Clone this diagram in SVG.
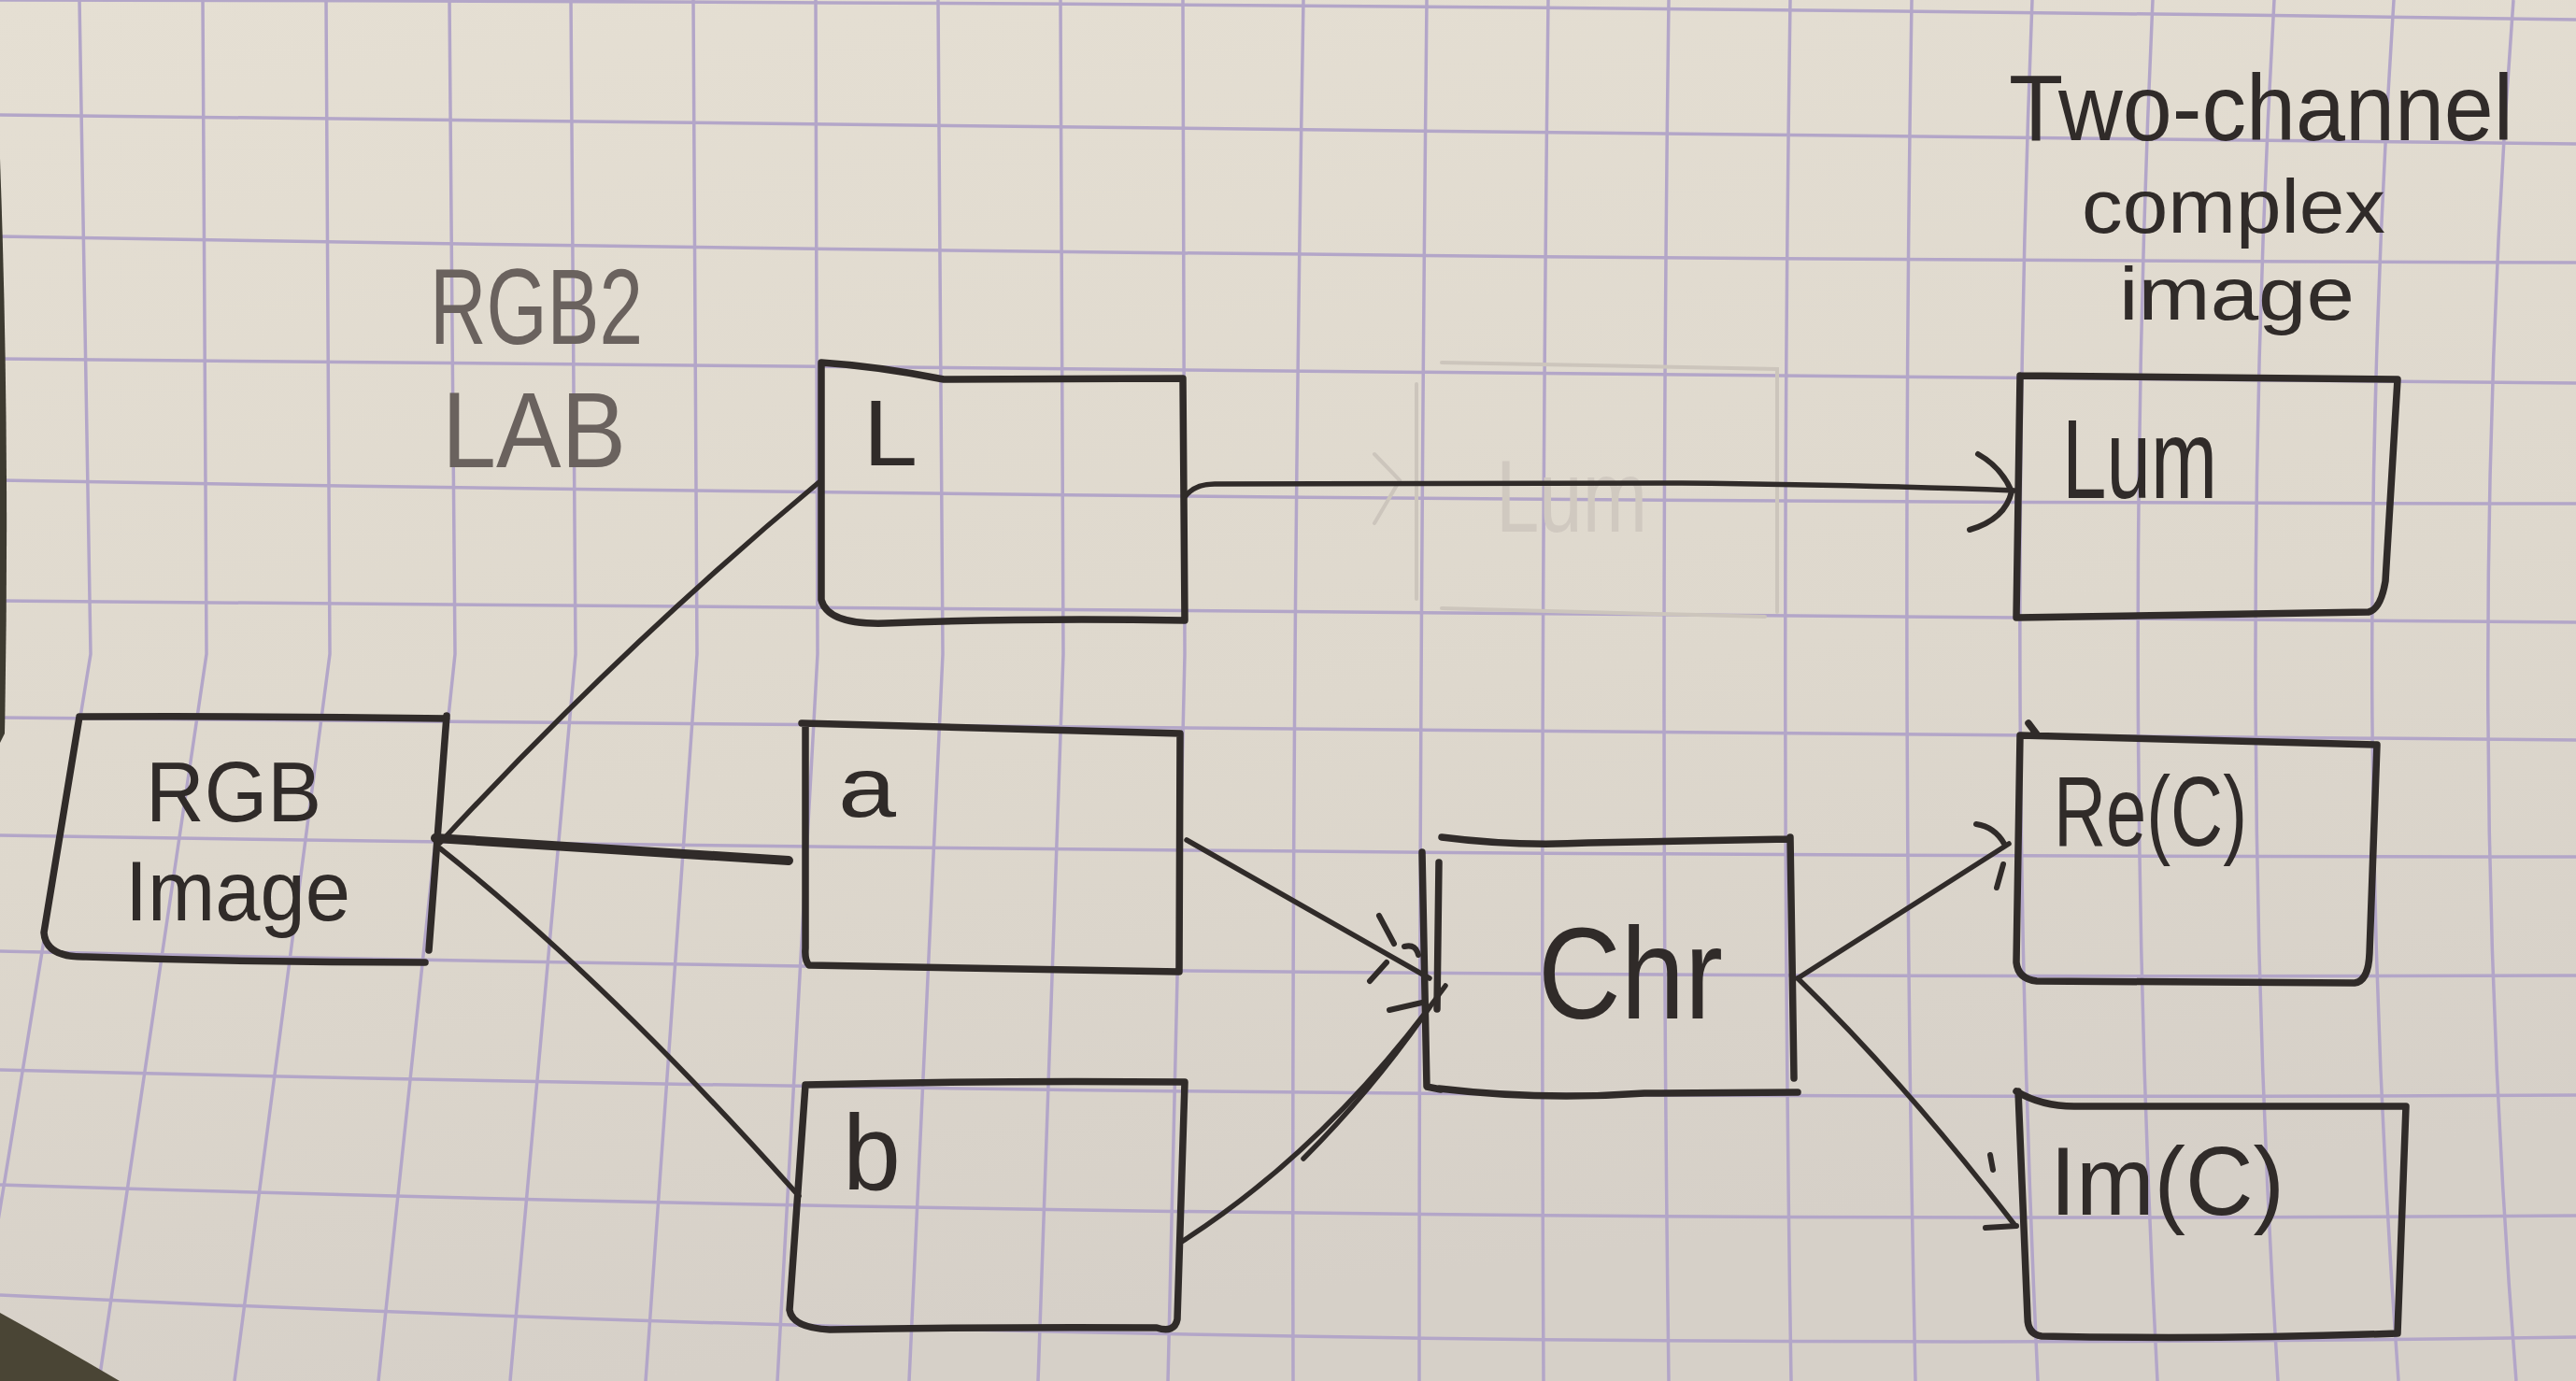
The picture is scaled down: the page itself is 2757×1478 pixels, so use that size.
<svg xmlns="http://www.w3.org/2000/svg" width="2757" height="1478" viewBox="0 0 2757 1478">
<defs>
<linearGradient id="paper" x1="0" y1="0" x2="0.25" y2="1">
<stop offset="0" stop-color="#e5dfd3"/>
<stop offset="0.6" stop-color="#ded8cd"/>
<stop offset="1" stop-color="#d6d0c8"/>
</linearGradient>
<style>
.grid{fill:none;stroke:#b3a6c8;stroke-width:3.5;stroke-linejoin:round}
.box{fill:none;stroke:#302b29;stroke-width:7.5;stroke-linecap:round;stroke-linejoin:round}
.edge{fill:none;stroke:#302b29;stroke-width:5.5;stroke-linecap:round;stroke-linejoin:round}
.thick{stroke-width:10}
.head{fill:none;stroke:#302b29;stroke-width:6;stroke-linecap:round;stroke-linejoin:round}
.faint{fill:none;stroke:#ccc5bc;stroke-width:4;stroke-linecap:round}
.lbl{font-family:"Liberation Sans",Arial,sans-serif;fill:#302b29}
.pencil{fill:#6a625e}
.ghost{fill:#d0c9c0}
</style>
</defs>
<rect width="2757" height="1478" fill="url(#paper)"/>
<g id="grid" class="grid">
<path d="M85,0 L97,700 L-30,1478"/>
<path d="M217,0 L221,700 L106,1478"/>
<path d="M349,0 L353,700 L251,1478"/>
<path d="M481,0 L487,700 L405,1478"/>
<path d="M611,0 L616,700 L546,1478"/>
<path d="M742,0 L746,700 L691,1478"/>
<path d="M873,0 L875,700 L832,1478"/>
<path d="M1004,0 L1009,700 L973,1478"/>
<path d="M1135,0 L1138,700 L1111,1478"/>
<path d="M1266,0 L1268,700 L1250,1478"/>
<path d="M1395,0 Q1382,739 1384,1478"/>
<path d="M1527,0 Q1519,739 1519,1478"/>
<path d="M1657,0 Q1648,739 1652,1478"/>
<path d="M1786,0 Q1776,739 1786,1478"/>
<path d="M1916,0 Q1905,739 1917,1478"/>
<path d="M2046,0 Q2034,739 2050,1478"/>
<path d="M2175,0 Q2146,739 2181,1478"/>
<path d="M2304,0 Q2270,739 2309,1478"/>
<path d="M2434,0 Q2392,739 2438,1478"/>
<path d="M2562,0 Q2513,739 2567,1478"/>
<path d="M2690,0 Q2634,739 2693,1478"/>
<path d="M0,0 Q1380,1.5 2757,21"/>
<path d="M0,123 Q1380,141.5 2757,154"/>
<path d="M0,253 Q1380,277 2757,281"/>
<path d="M0,384 Q1380,403 2757,410"/>
<path d="M0,514 Q1380,537.5 2757,539"/>
<path d="M0,643 Q1380,659.5 2757,666"/>
<path d="M0,768 Q1380,784 2757,792"/>
<path d="M0,894 Q1380,916.5 2757,917"/>
<path d="M0,1018 Q1380,1049 2757,1044"/>
<path d="M0,1145 Q1380,1179.5 2757,1172"/>
<path d="M0,1268 Q1380,1311.5 2757,1301"/>
<path d="M0,1386 Q1380,1451.5 2757,1431"/>
</g>
<g id="page-edge">
<path d="M0,170 Q11,470 5,785 L0,795 Z" fill="#3d3a30"/>
<path d="M0,1405 Q60,1438 128,1478 L0,1478 Z" fill="#4a4535"/>
</g>
<g id="erased">
<path class="faint" d="M1543,388 L1902,395 L1902,655 M1889,660 L1543,651 M1516,411 L1516,641"/>
<path class="faint" d="M1471,486 L1498,514 L1471,560"/>
<text class="lbl ghost" x="1601" y="569" font-size="110" textLength="162" lengthAdjust="spacingAndGlyphs">Lum</text>
</g>
<g id="connectors">
<path class="edge" d="M879,514 Q665,692 471,902"/>
<path class="edge thick" d="M466,897 L844,921"/>
<path class="edge" d="M471,908 Q650,1050 855,1280"/>
<path class="edge" d="M1268,532 Q1278,518 1300,518 L1800,517 Q2000,519 2156,525"/>
<path class="head" d="M2117,486 Q2142,500 2153,526 Q2146,556 2108,567"/>
<path class="edge" d="M1270,899 L1530,1047"/>
<path class="head" d="M1476,980 L1492,1010 M1466,1050 L1484,1030 M1503,1013 Q1515,1010 1518,1022"/>
<path class="edge" d="M1263,1330 Q1420,1230 1547,1055"/>
<path class="edge" d="M1395,1240 Q1470,1165 1530,1078"/>
<path class="head" d="M1487,1081 L1522,1073"/>
<path class="edge" d="M1924,1047 L2150,903"/>
<path class="head" d="M2115,882 Q2135,885 2145,903 M2137,950 L2144,925"/>
<path class="edge" d="M1924,1047 Q2040,1160 2157,1312"/>
<path class="head" d="M2130,1236 L2133,1252 M2125,1314 L2158,1312"/>
</g>
<g id="node-rgb">
<path class="box" d="M85,767 Q280,766 478,769 M478,766 L459,1017 M85,767 L47,998 Q49,1025 92,1024 Q270,1030 455,1030"/>
<text class="lbl" x="156" y="879" font-size="90" textLength="188" lengthAdjust="spacingAndGlyphs">RGB</text>
<text class="lbl" x="134" y="985" font-size="90" textLength="241" lengthAdjust="spacingAndGlyphs">Image</text>
</g>
<g id="label-rgb2lab">
<text class="lbl pencil" x="460" y="368" font-size="115" textLength="228" lengthAdjust="spacingAndGlyphs">RGB2</text>
<text class="lbl pencil" x="473" y="500" font-size="115" textLength="197" lengthAdjust="spacingAndGlyphs">LAB</text>
</g>
<g id="node-L">
<path class="box" d="M879,388 Q940,392 1010,406 L1266,405 L1268,664 Q1100,661 948,667 Q886,669 879,642 Z"/>
<text class="lbl" x="924" y="498" font-size="100" textLength="58" lengthAdjust="spacingAndGlyphs">L</text>
</g>
<g id="node-a">
<path class="box" d="M858,774 L1263,785 L1262,1040 Q1060,1036 866,1033 Q861,1028 862,1015 L862,776"/>
<text class="lbl" x="897" y="874" font-size="90" textLength="62" lengthAdjust="spacingAndGlyphs">a</text>
</g>
<g id="node-b">
<path class="box" d="M862,1161 Q1060,1156 1268,1158 L1260,1412 Q1257,1427 1238,1421 Q1060,1420 888,1423 Q848,1421 845,1402 L862,1161"/>
<text class="lbl" x="902" y="1273" font-size="115" textLength="62" lengthAdjust="spacingAndGlyphs">b</text>
</g>
<g id="node-chr">
<path class="box" d="M1543,896 Q1620,906 1700,902 L1915,898 M1916,896 L1920,1154 M1540,1165 Q1650,1178 1760,1170 L1924,1169 M1522,912 L1527,1163 L1542,1166 M1540,923 L1538,1080"/>
<text class="lbl" x="1646" y="1090" font-size="140" textLength="198" lengthAdjust="spacingAndGlyphs">Chr</text>
</g>
<g id="label-output">
<text class="lbl" x="2150" y="150" font-size="100" textLength="540" lengthAdjust="spacingAndGlyphs">Two-channel</text>
<text class="lbl" x="2228" y="249" font-size="82" textLength="325" lengthAdjust="spacingAndGlyphs">complex</text>
<text class="lbl" x="2268" y="342" font-size="80" textLength="252" lengthAdjust="spacingAndGlyphs">image</text>
</g>
<g id="node-lum">
<path class="box" d="M2162,402 L2566,406 L2553,622 Q2548,652 2535,655 L2158,661 L2162,402"/>
<text class="lbl" x="2207" y="533" font-size="120" textLength="166" lengthAdjust="spacingAndGlyphs">Lum</text>
</g>
<g id="node-re">
<path class="box" d="M2171,774 L2180,786 M2162,787 Q2350,792 2544,797 L2536,1020 Q2535,1050 2520,1052 L2180,1050 Q2160,1048 2158,1030 L2162,787"/>
<text class="lbl" x="2198" y="905" font-size="105" textLength="207" lengthAdjust="spacingAndGlyphs">Re(C)</text>
</g>
<g id="node-im">
<path class="box" d="M2158,1168 Q2185,1184 2220,1184 L2575,1184 L2566,1427 Q2370,1434 2185,1430 Q2170,1428 2170,1410 L2160,1168"/>
<text class="lbl" x="2194" y="1300" font-size="103" textLength="251" lengthAdjust="spacingAndGlyphs">Im(C)</text>
</g>
</svg>
